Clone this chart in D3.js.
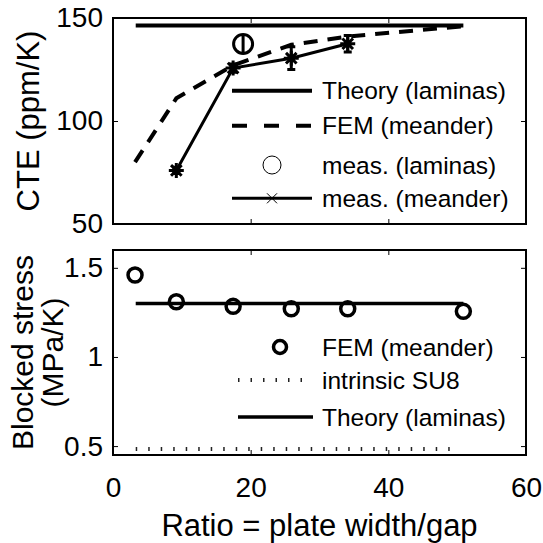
<!DOCTYPE html>
<html>
<head>
<meta charset="utf-8">
<script src="https://cdn.jsdelivr.net/npm/d3@7"></script>
<style>
  body { margin: 0; background: #fff; }
  svg { display: block; }
  text { font-family: "Liberation Sans", Arial, sans-serif; fill: #000; }
</style>
</head>
<body>
<div id="graphic"></div>
<script>
// ---- data ----
const ratio = [3.2, 9.2, 17.45, 25.9, 34.1, 50.9];

// top panel: CTE (ppm/K)
const theoryCTE = [[3.3, 146.4], [50.9, 146.4]];
const femCTE = [80, 111, 127, 137, 141, 146];
const measLamX = [18.9];
const measLamCTE = [137.4];
const measLamErr = [4];
const measMeanderX = [9.2, 17.45, 25.9, 34.1];
const measMeanderCTE = [76, 125.7, 130.5, 137.5];
const measMeanderErr = [1.5, 2, 5.5, 4];

// bottom panel: blocked stress (MPa/K)
const femStress = [1.46, 1.31, 1.284, 1.27, 1.27, 1.256];
const theoryStress = [[3.3, 1.30], [50.9, 1.30]];
const su8Stress = [[3.3, 0.483], [50.2, 0.483]];

const xTicks = [0, 20, 40, 60];
const yTopTicks = [50, 100, 150];
const yBotTicks = [0.5, 1, 1.5];

const W = 543, H = 543;
const left = 113, right = 526;

const svg = d3.select('#graphic').append('svg')
  .attr('width', W).attr('height', H);

const x = d3.scaleLinear().domain([0, 60]).range([left, right]);
const yTop = d3.scaleLinear().domain([50, 150]).range([224, 18]);
const yBot = d3.scaleLinear().domain([0.45, 1.6]).range([455, 250]);

function drawFrame(y, ticks, fmt, showX) {
  const g = svg.append('g');
  const [y0, y1] = y.range();
  // inward ticks like matlab
  g.append('g').attr('transform', `translate(0,${y0})`)
    .call(d3.axisBottom(x).tickValues(xTicks).tickSizeInner(-5).tickSizeOuter(0).tickPadding(22)
      .tickFormat(showX ? d3.format('d') : () => ''));
  g.append('g').attr('transform', `translate(0,${y1})`)
    .call(d3.axisTop(x).tickValues(xTicks).tickSizeInner(-5).tickSizeOuter(0).tickFormat(() => ''));
  g.append('g').attr('transform', `translate(${left},0)`)
    .call(d3.axisLeft(y).tickValues(ticks).tickSizeInner(-5).tickSizeOuter(0).tickPadding(10).tickFormat(fmt));
  g.append('g').attr('transform', `translate(${right},0)`)
    .call(d3.axisRight(y).tickValues(ticks).tickSizeInner(-5).tickSizeOuter(0).tickFormat(() => ''));
  g.selectAll('.domain').remove();
  g.selectAll('.tick line').attr('stroke', '#000').attr('stroke-width', 1);
  g.selectAll('.tick text').attr('font-size', 28).attr('fill', '#000')
    .style('font-family', '"Liberation Sans", Arial, sans-serif');
  g.append('rect')
    .attr('x', left).attr('y', y1)
    .attr('width', right - left).attr('height', y0 - y1)
    .attr('fill', 'none').attr('stroke', '#000').attr('stroke-width', 2);
}

function asterisk(g, cx, cy, r, sw) {
  const d = r * Math.SQRT1_2;
  g.append('path')
    .attr('d', `M${cx - r},${cy}L${cx + r},${cy}M${cx},${cy - r}L${cx},${cy + r}` +
      `M${cx - d},${cy - d}L${cx + d},${cy + d}M${cx - d},${cy + d}L${cx + d},${cy - d}`)
    .attr('stroke', '#000').attr('stroke-width', sw).attr('fill', 'none');
}

const line = (xs, ys, y) => d3.line().x((d, i) => x(xs[i])).y((d, i) => y(ys[i]))(ys);

// ---------- top panel ----------
drawFrame(yTop, yTopTicks, d3.format('d'), false);
const gTop = svg.append('g');

gTop.append('path')
  .attr('d', d3.line().x(d => x(d[0])).y(d => yTop(d[1]))(theoryCTE))
  .attr('stroke', '#000').attr('stroke-width', 4).attr('fill', 'none');

gTop.append('path')
  .attr('d', line(ratio, femCTE, yTop))
  .attr('stroke', '#000').attr('stroke-width', 4).attr('fill', 'none')
  .attr('stroke-dasharray', '14,10');

gTop.append('path')
  .attr('d', line(measMeanderX, measMeanderCTE, yTop))
  .attr('stroke', '#000').attr('stroke-width', 3).attr('fill', 'none');

measMeanderX.forEach((mx, i) => {
  const cx = x(mx), lo = yTop(measMeanderCTE[i] - measMeanderErr[i]), hi = yTop(measMeanderCTE[i] + measMeanderErr[i]);
  gTop.append('path')
    .attr('d', `M${cx},${lo}L${cx},${hi}M${cx - 4},${lo}L${cx + 4},${lo}M${cx - 4},${hi}L${cx + 4},${hi}`)
    .attr('stroke', '#000').attr('stroke-width', 3).attr('fill', 'none');
  asterisk(gTop, cx, yTop(measMeanderCTE[i]), 7.5, 3);
});

measLamX.forEach((mx, i) => {
  const cx = x(mx), cy = yTop(measLamCTE[i]);
  gTop.append('path')
    .attr('d', `M${cx},${yTop(measLamCTE[i] - measLamErr[i])}L${cx},${yTop(measLamCTE[i] + measLamErr[i])}`)
    .attr('stroke', '#000').attr('stroke-width', 3);
  gTop.append('circle').attr('cx', cx).attr('cy', cy).attr('r', 9.5)
    .attr('fill', 'none').attr('stroke', '#000').attr('stroke-width', 3);
});

// top legend
const lgT = svg.append('g');
const lx0 = 232, lx1 = 312, ltx = 322;
const topRows = [90.7, 125.7, 165, 198.3];
lgT.append('line').attr('x1', lx0).attr('x2', lx1).attr('y1', topRows[0]).attr('y2', topRows[0])
  .attr('stroke', '#000').attr('stroke-width', 4);
lgT.append('line').attr('x1', lx0).attr('x2', lx1).attr('y1', topRows[1]).attr('y2', topRows[1])
  .attr('stroke', '#000').attr('stroke-width', 4).attr('stroke-dasharray', '15,17');
lgT.append('circle').attr('cx', (lx0 + lx1) / 2).attr('cy', topRows[2]).attr('r', 9)
  .attr('fill', 'none').attr('stroke', '#000').attr('stroke-width', 1);
lgT.append('line').attr('x1', lx0).attr('x2', lx1).attr('y1', topRows[3]).attr('y2', topRows[3])
  .attr('stroke', '#000').attr('stroke-width', 3);
{
  const cx = (lx0 + lx1) / 2, cy = topRows[3];
  lgT.append('path').attr('d', `M${cx - 5},${cy - 5}L${cx + 5},${cy + 5}M${cx - 5},${cy + 5}L${cx + 5},${cy - 5}`)
    .attr('stroke', '#000').attr('stroke-width', 1);
}
['Theory (laminas)', 'FEM (meander)', 'meas. (laminas)', 'meas. (meander)'].forEach((t, i) => {
  lgT.append('text').attr('x', ltx).attr('y', topRows[i]).attr('dy', '0.35em')
    .attr('font-size', 24.5).text(t);
});

// ---------- bottom panel ----------
drawFrame(yBot, yBotTicks, d => d === 1 ? '1' : d3.format('.1f')(d), true);
const gBot = svg.append('g');

gBot.append('path')
  .attr('d', d3.line().x(d => x(d[0])).y(d => yBot(d[1]))(theoryStress))
  .attr('stroke', '#000').attr('stroke-width', 3.5).attr('fill', 'none');

gBot.append('path')
  .attr('d', d3.line().x(d => x(d[0])).y(d => yBot(d[1]))(su8Stress))
  .attr('stroke', '#222').attr('stroke-width', 4).attr('fill', 'none')
  .attr('stroke-dasharray', '1.5,11');

ratio.forEach((r, i) => {
  gBot.append('circle').attr('cx', x(r)).attr('cy', yBot(femStress[i])).attr('r', 7)
    .attr('fill', 'none').attr('stroke', '#000').attr('stroke-width', 3.5);
});

// bottom legend
const lgB = svg.append('g');
const botRows = [347, 380, 417];
const bx0 = 238, bx1 = 313;
lgB.append('circle').attr('cx', 280).attr('cy', botRows[0]).attr('r', 6.5)
  .attr('fill', 'none').attr('stroke', '#000').attr('stroke-width', 3.5);
lgB.append('line').attr('x1', bx0).attr('x2', bx1).attr('y1', botRows[1]).attr('y2', botRows[1])
  .attr('stroke', '#222').attr('stroke-width', 4).attr('stroke-dasharray', '1.5,11');
lgB.append('line').attr('x1', bx0).attr('x2', bx1).attr('y1', botRows[2]).attr('y2', botRows[2])
  .attr('stroke', '#000').attr('stroke-width', 3.5);
['FEM (meander)', 'intrinsic SU8', 'Theory (laminas)'].forEach((t, i) => {
  lgB.append('text').attr('x', ltx).attr('y', botRows[i]).attr('dy', '0.35em')
    .attr('font-size', 24.5).text(t);
});

// axis labels
svg.append('text')
  .attr('transform', `translate(39,${(18 + 224) / 2}) rotate(-90)`)
  .attr('text-anchor', 'middle').attr('font-size', 31).text('CTE (ppm/K)');
svg.append('text')
  .attr('transform', `translate(33,${(250 + 455) / 2}) rotate(-90)`)
  .attr('text-anchor', 'middle').attr('font-size', 30).text('Blocked stress');
svg.append('text')
  .attr('transform', `translate(63,${(250 + 455) / 2}) rotate(-90)`)
  .attr('text-anchor', 'middle').attr('font-size', 30).text('(MPa/K)');
svg.append('text')
  .attr('x', (left + right) / 2).attr('y', 536)
  .attr('text-anchor', 'middle').attr('font-size', 31).text('Ratio = plate width/gap');
</script>
</body>
</html>
